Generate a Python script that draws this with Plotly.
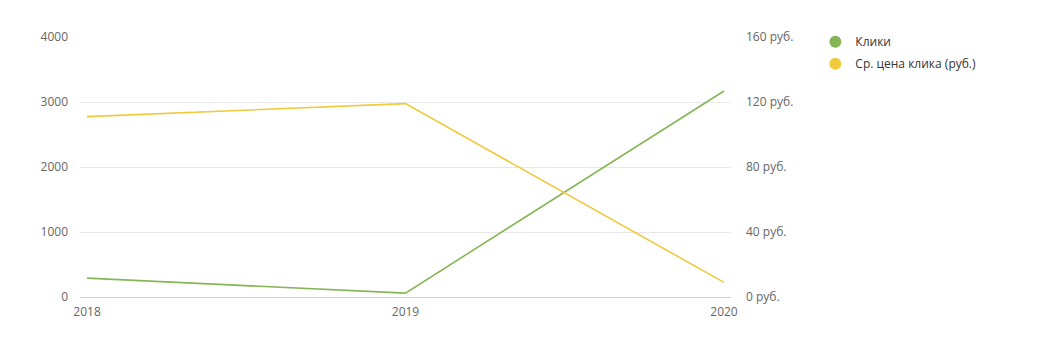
import plotly.graph_objects as go

years = [2018, 2019, 2020]
clicks = [290, 60, 3170]
avg_cpc = [111, 119, 9]
series_names = ["Клики", "Ср. цена клика (руб.)"]
green = "#86b555"
yellow = "#f0c93c"

fig = go.Figure()
fig.add_trace(go.Scatter(x=years, y=clicks, mode="lines", line=dict(color=green, width=1.6),
                         showlegend=False, yaxis="y"))
fig.add_trace(go.Scatter(x=years, y=avg_cpc, mode="lines", line=dict(color=yellow, width=1.6),
                         showlegend=False, yaxis="y2"))
fig.add_trace(go.Scatter(x=[None], y=[None], mode="markers", name=series_names[0],
                         legendgroup="a", marker=dict(color=green, size=10), yaxis="y"))
fig.add_trace(go.Scatter(x=[None], y=[None], mode="markers", name=series_names[1],
                         legendgroup="b", marker=dict(color=yellow, size=10), yaxis="y2"))

fig.update_layout(
    width=1040, height=340,
    margin=dict(l=80, r=309, t=37, b=43),
    paper_bgcolor="white", plot_bgcolor="white",
    font=dict(family="Open Sans, Segoe UI, sans-serif", size=12, color="#666666"),
    xaxis=dict(range=[2017.978, 2020.022], tickvals=years, ticktext=[str(y) for y in years],
               showgrid=False, zeroline=False, showline=False, ticks="",
               tickfont=dict(size=12, color="#666666"), ticklabelstandoff=6),
    yaxis=dict(range=[0, 4000], dtick=1000, showgrid=True, gridcolor="#e8e8e8", gridwidth=1,
               zeroline=True, zerolinecolor="#d0d0d0", zerolinewidth=1, ticks="",
               tickfont=dict(size=12, color="#666666"), ticklabelstandoff=11),
    yaxis2=dict(range=[0, 160], dtick=40, overlaying="y", side="right", showgrid=False,
                zeroline=False, ticksuffix=" руб.", ticks="",
                tickfont=dict(size=12, color="#666666"), ticklabelstandoff=14),
    legend=dict(xref="container", yref="container", x=0.784, y=0.92, xanchor="left", yanchor="top",
                font=dict(size=12, color="#333333"), bgcolor="rgba(0,0,0,0)", tracegroupgap=3,
                itemsizing="constant"),
)

fig.write_html("out.html")
